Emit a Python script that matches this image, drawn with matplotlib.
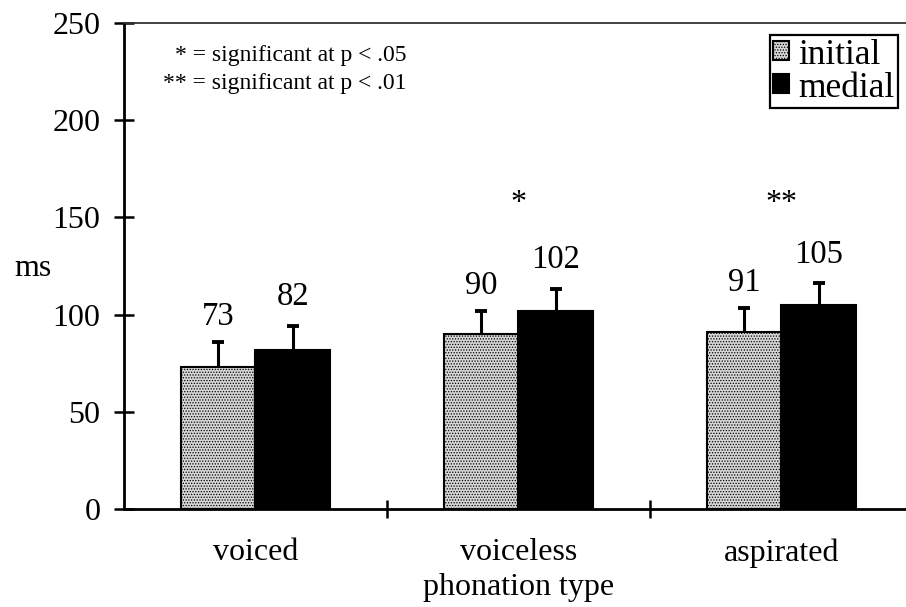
import numpy as np
import matplotlib.pyplot as plt
from matplotlib.patches import Patch

plt.rcParams['font.family'] = ['Liberation Serif', 'DejaVu Serif']
plt.rcParams['hatch.color'] = '#9a9a9a'
plt.rcParams['hatch.linewidth'] = 0.6

# mean durations (ms) and upper error bars
categories = ['voiced', 'voiceless', 'aspirated']
initial = [73, 90, 91]
medial = [82, 102, 105]
initial_err = [13, 12, 12.5]
medial_err = [12, 11, 11]
sig_marks = ['', '*', '**']

fig = plt.figure(figsize=(9.06, 6.07), dpi=100)
ax = fig.add_axes([124/906, 1 - 509/607, 789/906, 486/607])

x = np.arange(len(categories)) + 0.5
w = 0.285
gray = '#d6d6d6'

ax.bar(x - w/2, initial, w, facecolor=gray, edgecolor='black',
       linewidth=1.5, hatch='......', zorder=2)
ax.bar(x + w/2, medial, w, facecolor='black', edgecolor='black',
       linewidth=1.5, zorder=2)

# upward-only error bars
for xs, vals, errs in [(x - w/2, initial, initial_err), (x + w/2, medial, medial_err)]:
    tops = np.array(vals) + np.array(errs)
    ax.vlines(xs, vals, tops, colors='black', linewidth=2.2, zorder=3)
    ax.plot(xs, tops, linestyle='none', marker='_', markersize=9,
            markeredgewidth=2.8, color='black', zorder=3)

for xi, v, e in zip(x - w/2, initial, initial_err):
    ax.text(xi, v + e + 13, str(v), ha='center', va='center', fontsize=23.5)
for xi, v, e in zip(x + w/2, medial, medial_err):
    ax.text(xi, v + e + 15, str(v), ha='center', va='center', fontsize=23.5)
for xi, s in zip(x, sig_marks):
    if s:
        ax.text(xi, 157, s, ha='center', va='center', fontsize=23)

ax.text(1.076, 233.5, '* = significant at p < .05', ha='right', va='center', fontsize=17)
ax.text(1.076, 219, '** = significant at p < .01', ha='right', va='center', fontsize=17)

ax.set_xlim(0, 3)
ax.set_ylim(0, 250)
ax.set_yticks(np.arange(0, 251, 50))
ax.set_xticks(x)
ax.set_xticklabels(categories)
ax.set_xticks([1, 2], minor=True)
ax.tick_params(axis='x', which='major', length=0, pad=21, labelsize=23)
ax.tick_params(axis='x', which='minor', direction='inout', length=13, width=1.8)
ax.tick_params(axis='y', direction='inout', length=14, width=1.8, pad=10, labelsize=23)

ax.spines['right'].set_visible(False)
ax.spines['left'].set_linewidth(2)
ax.spines['bottom'].set_linewidth(2)
ax.spines['top'].set_linewidth(1.3)
ax.spines['top'].set_color('#333333')

ax.set_xlabel('phonation type', fontsize=23, labelpad=4)
ax.set_ylabel('ms', fontsize=23, rotation=0, ha='center', va='center')
ax.yaxis.set_label_coords(-0.115, 0.495)

handles = [Patch(facecolor=gray, edgecolor='black', hatch='......', linewidth=1.5),
           Patch(facecolor='black', edgecolor='black', linewidth=1.5)]
leg = ax.legend(handles, ['initial', 'medial'], loc='upper right',
                bbox_to_anchor=(898/906, 1 - 35/607), bbox_transform=fig.transFigure,
                fontsize=25.5, handlelength=0.45, handleheight=0.45, handletextpad=0.25,
                borderpad=0.1, labelspacing=0.0, borderaxespad=0, fancybox=False,
                framealpha=1, edgecolor='black')
leg.get_frame().set_linewidth(1.6)

fig.savefig('out.png', dpi=100)
